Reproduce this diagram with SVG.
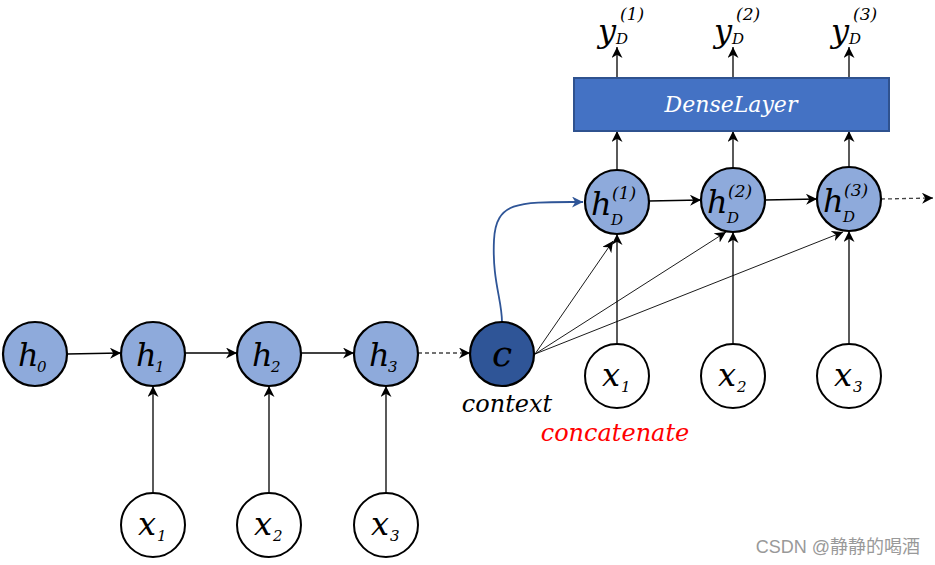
<svg xmlns="http://www.w3.org/2000/svg" width="935" height="565" viewBox="0 0 935 565">
<style>
.h{fill:#8EAADB;stroke:#000;stroke-width:2.2}
.x{fill:#fff;stroke:#000;stroke-width:2}
.c{fill:#2F5597;stroke:#000;stroke-width:2.2}
.ln{stroke:#000;stroke-width:1.3;fill:none}
.th{stroke:#000;stroke-width:0.9;fill:none}
.ds{stroke:#444;stroke-width:1.3;stroke-dasharray:4 3;fill:none}
.t{font-family:"DejaVu Serif",serif;font-style:italic;fill:#000}
.big{font-size:32px}
.sub{font-size:15px}
.sup{font-size:17px}
</style>
<defs>
<marker id="a" viewBox="0 0 10 10" refX="10" refY="5" markerWidth="11" markerHeight="11" markerUnits="userSpaceOnUse" orient="auto"><path d="M0,0 L10,5 L0,10 L3,5 Z" fill="#000"/></marker>
<marker id="ab" viewBox="0 0 10 10" refX="10" refY="5" markerWidth="11" markerHeight="11" markerUnits="userSpaceOnUse" orient="auto"><path d="M0,0 L10,5 L0,10 L3,5 Z" fill="#2F5597"/></marker>
</defs>
<rect width="935" height="565" fill="#fff"/>
<g id="connectors">
<line class="ln" x1="67" y1="354" x2="121" y2="353" marker-end="url(#a)"/>
<line class="ln" x1="185" y1="353" x2="237" y2="353" marker-end="url(#a)"/>
<line class="ln" x1="301" y1="353" x2="354" y2="353" marker-end="url(#a)"/>
<line class="ds" x1="418" y1="353" x2="470" y2="353" marker-end="url(#a)"/>
<line class="ln" x1="153" y1="493" x2="153" y2="386" marker-end="url(#a)"/>
<line class="ln" x1="269" y1="493" x2="269" y2="386" marker-end="url(#a)"/>
<line class="ln" x1="386" y1="493" x2="386" y2="386" marker-end="url(#a)"/>
<path d="M502,322 C502,300 492,280 494,240 C496,200 520,202 583,202" stroke="#2F5597" stroke-width="1.8" fill="none" marker-end="url(#ab)"/>
<line class="th" x1="535" y1="354" x2="613" y2="241" marker-end="url(#a)"/>
<line class="th" x1="535" y1="354" x2="726" y2="232" marker-end="url(#a)"/>
<line class="th" x1="535" y1="354" x2="843" y2="232" marker-end="url(#a)"/>
<line class="ln" x1="617" y1="344" x2="617" y2="234" marker-end="url(#a)"/>
<line class="ln" x1="733" y1="344" x2="733" y2="232" marker-end="url(#a)"/>
<line class="ln" x1="849" y1="344" x2="849" y2="231" marker-end="url(#a)"/>
<line class="ln" x1="649" y1="201" x2="701" y2="200" marker-end="url(#a)"/>
<line class="ln" x1="765" y1="200" x2="817" y2="199" marker-end="url(#a)"/>
<line class="ds" x1="881" y1="199" x2="933" y2="198" marker-end="url(#a)"/>
<line class="ln" x1="617" y1="170" x2="617" y2="131" marker-end="url(#a)"/>
<line class="ln" x1="733" y1="168" x2="733" y2="131" marker-end="url(#a)"/>
<line class="ln" x1="849" y1="167" x2="849" y2="131" marker-end="url(#a)"/>
<line class="ln" x1="617" y1="78" x2="617" y2="47" marker-end="url(#a)"/>
<line class="ln" x1="733" y1="78" x2="733" y2="47" marker-end="url(#a)"/>
<line class="ln" x1="849" y1="78" x2="849" y2="47" marker-end="url(#a)"/>
</g>
<g id="h0"><circle class="h" cx="35" cy="354" r="32"/><text class="t big" x="18" y="366">h</text><text class="t sub" x="37" y="372">0</text></g>
<g id="h1"><circle class="h" cx="153" cy="354" r="32"/><text class="t big" x="136" y="366">h</text><text class="t sub" x="155" y="372">1</text></g>
<g id="h2"><circle class="h" cx="269" cy="354" r="32"/><text class="t big" x="252" y="366">h</text><text class="t sub" x="271" y="372">2</text></g>
<g id="h3"><circle class="h" cx="386" cy="354" r="32"/><text class="t big" x="369" y="366">h</text><text class="t sub" x="388" y="372">3</text></g>
<g id="c"><circle class="c" cx="502" cy="354" r="32"/><text class="t" x="502" y="366" text-anchor="middle" font-size="36">c</text></g>
<g id="ex1"><circle class="x" cx="153" cy="525" r="32"/><text class="t big" x="138" y="535">x</text><text class="t sub" x="157" y="541">1</text></g>
<g id="ex2"><circle class="x" cx="269" cy="525" r="32"/><text class="t big" x="254" y="535">x</text><text class="t sub" x="273" y="541">2</text></g>
<g id="ex3"><circle class="x" cx="386" cy="525" r="32"/><text class="t big" x="371" y="535">x</text><text class="t sub" x="390" y="541">3</text></g>
<g id="dx1"><circle class="x" cx="617" cy="376" r="32"/><text class="t big" x="602" y="386">x</text><text class="t sub" x="621" y="392">1</text></g>
<g id="dx2"><circle class="x" cx="733" cy="376" r="32"/><text class="t big" x="718" y="386">x</text><text class="t sub" x="737" y="392">2</text></g>
<g id="dx3"><circle class="x" cx="849" cy="376" r="32"/><text class="t big" x="834" y="386">x</text><text class="t sub" x="853" y="392">3</text></g>
<g id="hd1"><circle class="h" cx="617" cy="202" r="32"/><text class="t big" x="591" y="215">h</text><text class="t sub" x="611" y="225">D</text><text class="t sup" x="612" y="199">(1)</text></g>
<g id="hd2"><circle class="h" cx="733" cy="200" r="32"/><text class="t big" x="707" y="213">h</text><text class="t sub" x="727" y="223">D</text><text class="t sup" x="728" y="197">(2)</text></g>
<g id="hd3"><circle class="h" cx="849" cy="199" r="32"/><text class="t big" x="823" y="212">h</text><text class="t sub" x="843" y="222">D</text><text class="t sup" x="844" y="196">(3)</text></g>
<g id="dense"><rect x="574" y="78" width="315" height="53" fill="#4472C4" stroke="#2F528F" stroke-width="2"/><text class="t" x="731" y="112" text-anchor="middle" font-size="22" style="fill:#fff">DenseLayer</text></g>
<g id="y1"><text class="t big" x="598" y="42">y</text><text class="t sub" x="616" y="44">D</text><text class="t sup" x="620" y="20">(1)</text></g>
<g id="y2"><text class="t big" x="714" y="42">y</text><text class="t sub" x="732" y="44">D</text><text class="t sup" x="736" y="20">(2)</text></g>
<g id="y3"><text class="t big" x="831" y="42">y</text><text class="t sub" x="849" y="44">D</text><text class="t sup" x="853" y="20">(3)</text></g>
<text class="t" x="507" y="412" text-anchor="middle" font-size="24">context</text>
<text class="t" x="615" y="441" text-anchor="middle" font-size="24" style="fill:#FF0000">concatenate</text>
<text x="920" y="553" text-anchor="end" font-family="'Liberation Sans','Noto Sans CJK SC',sans-serif" font-size="18" fill="#999">CSDN @静静的喝酒</text>
</svg>
